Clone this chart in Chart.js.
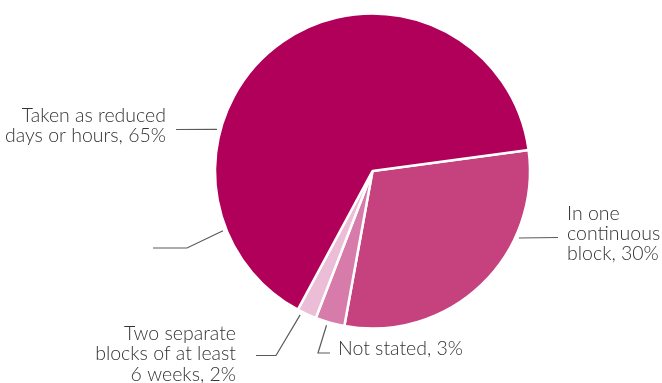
<!DOCTYPE html>
<html>
<head>
<meta charset="utf-8">
<script src="https://cdn.jsdelivr.net/npm/chart.js@4/dist/chart.umd.min.js"></script>
<style>
  html, body { margin: 0; padding: 0; background: #ffffff; }
  #wrap { width: 662px; height: 383px; }
</style>
</head>
<body>
<div id="wrap"><canvas id="chart" width="662" height="383"></canvas></div>
<script>
// How the leave was taken (share of respondents, %)
const categories = [
  'In one continuous block',
  'Not stated',
  'Two separate blocks of at least 6 weeks',
  'Taken as reduced days or hours'
];
const shares = [30, 3, 2, 65];
const sliceColors = ['#C5427F', '#D67BAA', '#ECBDD6', '#B0005A'];

// Label text for each slice (value appended from shares)
const labelLines = [
  ['In one', 'continuous', 'block, '],
  ['Not stated, '],
  ['Two separate', 'blocks of at least', '6 weeks, '],
  ['Taken as reduced', 'days or hours, ']
];

// Label placement: text anchor, alignment, leader line elbow points and
// the angle (degrees, clockwise from 3 o'clock) where the leader meets the pie
const labelLayout = [
  { x: 567, y: 219.5, align: 'left',  lead: [[558, 237.5]], angle: 24.6, startAtPie: true },
  { x: 338, y: 355,   align: 'left',  lead: [[330, 353], [318, 353]], angle: 106.6 },
  { x: 236, y: 340,   align: 'right', lead: [[256, 355.5], [276, 355.5]], angle: 116.7 },
  { x: 166, y: 122,   align: 'right', lead: [[176, 129.5]], angle: 195 }
];
// Extra leader line on the left of the pie
const extraLeader = { lead: [[153, 248], [187, 248]], angle: 158.2 };

const LINE_H = 20.4;
const FONT = '300 19.5px Lato, "Open Sans", sans-serif';

const labelPlugin = {
  id: 'sliceLabels',
  afterDatasetsDraw(chart) {
    const ctx = chart.ctx;
    const arc = chart.getDatasetMeta(0).data[0];
    const cx = arc.x, cy = arc.y, r = arc.outerRadius + 3.5;
    const edge = (deg) => {
      const a = deg * Math.PI / 180;
      return [cx + r * Math.cos(a), cy + r * Math.sin(a)];
    };
    ctx.save();
    ctx.strokeStyle = '#5a5a5a';
    ctx.lineWidth = 1.2;
    const drawLeader = (spec) => {
      const pts = spec.lead.slice();
      const p = edge(spec.angle);
      ctx.beginPath();
      if (spec.startAtPie) {
        ctx.moveTo(p[0], p[1]);
        pts.forEach(q => ctx.lineTo(q[0], q[1]));
      } else {
        ctx.moveTo(pts[0][0], pts[0][1]);
        pts.slice(1).forEach(q => ctx.lineTo(q[0], q[1]));
        ctx.lineTo(p[0], p[1]);
      }
      ctx.stroke();
    };
    labelLayout.forEach(drawLeader);
    drawLeader(extraLeader);

    ctx.fillStyle = '#333333';
    ctx.font = FONT;
    ctx.textBaseline = 'alphabetic';
    labelLayout.forEach((spec, i) => {
      ctx.textAlign = spec.align;
      const lines = labelLines[i].slice();
      lines[lines.length - 1] = lines[lines.length - 1] + shares[i] + '%';
      lines.forEach((t, k) => ctx.fillText(t, spec.x, spec.y + k * LINE_H));
    });
    ctx.restore();
  }
};

new Chart(document.getElementById('chart'), {
  type: 'pie',
  data: {
    labels: categories,
    datasets: [{
      data: shares,
      backgroundColor: sliceColors,
      borderColor: '#ffffff',
      borderWidth: 2.5,
      hoverOffset: 0
    }]
  },
  options: {
    responsive: false,
    animation: false,
    rotation: 82.3,
    radius: 157.5,
    layout: { padding: { left: 83, right: 0, top: 0, bottom: 41 } },
    plugins: {
      legend: { display: false },
      tooltip: { enabled: false }
    },
    events: []
  },
  plugins: [labelPlugin]
});
</script>
</body>
</html>
